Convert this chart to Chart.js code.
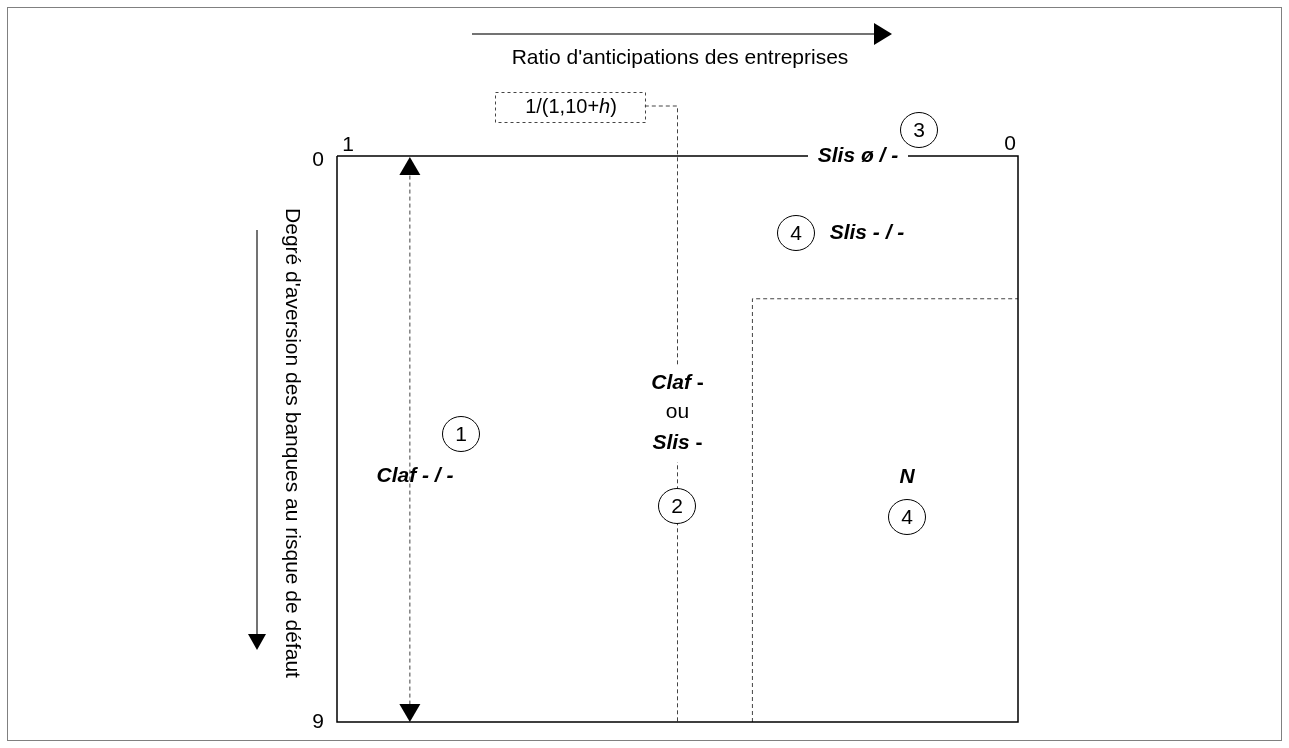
<!DOCTYPE html>
<html>
<head>
<meta charset="utf-8">
<script src="https://cdn.jsdelivr.net/npm/chart.js@4.4.1/dist/chart.umd.min.js"></script>
<style>
    body { margin: 0; background: #fff; }
    #box { width: 1289px; height: 748px; position: relative; }
</style>
</head>
<body>
<div id="box"><canvas id="chart1"></canvas></div>
<script>
// Axes : ratio d'anticipations (1 -> 0), aversion au risque (0 -> 9)
const ticks_x = ['1', '0'];
const ticks_y = ['0', '9'];
const limites_x = [1, 0];
const limites_y = [0, 9];

// Seuils du diagramme
const seuil_ratio = [0.5];      // 1/(1,10+h)
const seuil_zone_n = [0.39, 2.27]; // coin de la zone N (ratio, aversion)
const fleche_ratio = [0.893];   // double fleche de la zone 1

// Zones : numero, libelle
const zones_num = ['1', '2', '3', '4', '4'];
const zones_libelle = ['Claf - / -', 'Claf -|ou|Slis -', 'Slis ø / -', 'Slis - / -', 'N'];

const titre_x = "Ratio d'anticipations des entreprises";
const titre_y = "Degré d'aversion des banques au risque de défaut";
const libelle_seuil = ['1/(1,10+', 'h', ')'];

const police = '"Liberation Sans", Arial, sans-serif';
const taille = 21;

function triangle(ctx, x, y, dir, w, h) {
    ctx.beginPath();
    if (dir == 'up') { ctx.moveTo(x, y); ctx.lineTo(x - w / 2, y + h); ctx.lineTo(x + w / 2, y + h); }
    if (dir == 'down') { ctx.moveTo(x, y); ctx.lineTo(x - w / 2, y - h); ctx.lineTo(x + w / 2, y - h); }
    if (dir == 'right') { ctx.moveTo(x, y); ctx.lineTo(x - h, y - w / 2); ctx.lineTo(x - h, y + w / 2); }
    ctx.closePath();
    ctx.fill();
}

function cercle(ctx, x, y, txt) {
    ctx.fillStyle = '#fff';
    ctx.beginPath();
    ctx.ellipse(x, y, 18.5, 17.5, 0, 0, Math.PI * 2);
    ctx.fill();
    ctx.lineWidth = 1;
    ctx.strokeStyle = '#000';
    ctx.stroke();
    ctx.fillStyle = '#000';
    ctx.font = taille + 'px ' + police;
    ctx.textAlign = 'center';
    ctx.textBaseline = 'middle';
    ctx.fillText(txt, x, y + 1);
}

// dessine un texte en plusieurs morceaux (gras italique / gras / normal)
function texteMixte(ctx, morceaux, cx, cy, t) {
    t = t || taille;
    let total = 0;
    morceaux.forEach(m => { ctx.font = m[1] + ' ' + t + 'px ' + police; total += ctx.measureText(m[0]).width; });
    let x = cx - total / 2;
    ctx.textAlign = 'left';
    ctx.textBaseline = 'middle';
    morceaux.forEach(m => {
        ctx.font = m[1] + ' ' + t + 'px ' + police;
        ctx.fillText(m[0], x, cy);
        x += ctx.measureText(m[0]).width;
    });
    return total;
}

const pluginDiagramme = {
    id: 'diagramme',
    afterDraw(chart) {
        const ctx = chart.ctx;
        const sx = chart.scales.x, sy = chart.scales.y;
        const px = v => sx.getPixelForValue(v);
        const py = v => sy.getPixelForValue(v);
        const a = chart.chartArea;
        ctx.save();
        ctx.fillStyle = '#000';

        // cadre exterieur
        ctx.strokeStyle = '#808080';
        ctx.lineWidth = 1;
        ctx.strokeRect(7.5, 7.5, 1274, 733);

        // etiquettes des axes
        ctx.font = taille + 'px ' + police;
        ctx.textAlign = 'center';
        ctx.textBaseline = 'middle';
        ctx.fillText(ticks_y[0], a.left - 19, py(limites_y[0]) + 4);
        ctx.fillText(ticks_y[1], a.left - 19, py(limites_y[1]));
        ctx.fillText(ticks_x[0], px(limites_x[0]) + 11, a.top - 11);
        ctx.fillText(ticks_x[1], px(limites_x[1]) - 8, a.top - 12);

        // fleche du haut + titre
        ctx.strokeStyle = '#444';
        ctx.lineWidth = 1.5;
        ctx.beginPath();
        ctx.moveTo(472, 34); ctx.lineTo(876, 34);
        ctx.stroke();
        triangle(ctx, 892, 34, 'right', 22, 18);
        ctx.font = taille + 'px ' + police;
        ctx.textAlign = 'center';
        ctx.fillText(titre_x, 680, 58);

        // fleche de gauche + titre vertical
        ctx.beginPath();
        ctx.moveTo(257, 230); ctx.lineTo(257, 636);
        ctx.stroke();
        triangle(ctx, 257, 650, 'down', 18, 16);
        ctx.save();
        ctx.translate(292, 443);
        ctx.rotate(Math.PI / 2);
        ctx.fillText(titre_y, 0, 0);
        ctx.restore();

        // boite du seuil 1/(1,10+h)
        ctx.setLineDash([3, 3]);
        ctx.strokeStyle = '#444';
        ctx.lineWidth = 1;
        ctx.strokeRect(495.5, 92.5, 150, 30);
        ctx.setLineDash([]);
        texteMixte(ctx, [[libelle_seuil[0], ''], [libelle_seuil[1], 'italic'], [libelle_seuil[2], '']], 571, 107, 20);

        // double fleche zone 1
        triangle(ctx, px(fleche_ratio[0]), a.top + 1, 'up', 21, 18);
        triangle(ctx, px(fleche_ratio[0]), a.bottom, 'down', 21, 18);

        // zone 3 : texte sur la ligne du haut
        ctx.fillStyle = '#fff';
        ctx.fillRect(808, a.top - 3, 100, 6);
        ctx.fillStyle = '#000';
        texteMixte(ctx, [['Slis ø / -', 'bold italic']], 858, a.top);
        cercle(ctx, 919, 130, zones_num[2]);

        // zone 4 haut
        cercle(ctx, 796, 233, zones_num[3]);
        texteMixte(ctx, [['Slis - / -', 'bold italic']], 867, 233);

        // zone 1
        cercle(ctx, 461, 434, zones_num[0]);
        texteMixte(ctx, [['Claf - / -', 'bold italic']], 415, 476);

        // zone 2
        ctx.fillStyle = '#fff';
        ctx.fillRect(px(seuil_ratio[0]) - 35, 366, 70, 96);
        ctx.fillStyle = '#000';
        texteMixte(ctx, [['Claf', 'bold italic'], [' -', 'bold']], px(seuil_ratio[0]), 383);
        texteMixte(ctx, [['ou', '']], px(seuil_ratio[0]), 412);
        texteMixte(ctx, [['Slis', 'bold italic'], [' -', 'bold']], px(seuil_ratio[0]), 443);
        cercle(ctx, 677, 506, zones_num[1]);

        // zone N
        texteMixte(ctx, [[zones_libelle[4], 'bold italic']], 907, 477);
        cercle(ctx, 907, 517, zones_num[4]);

        ctx.restore();
    }
};

const noir = '#000';
new Chart(document.getElementById('chart1'), {
    type: 'scatter',
    data: {
        datasets: [
            {
                label: 'cadre',
                data: [
                    { x: limites_x[0], y: limites_y[0] }, { x: limites_x[0], y: limites_y[1] },
                    { x: limites_x[1], y: limites_y[1] }, { x: limites_x[1], y: limites_y[0] },
                    { x: limites_x[0], y: limites_y[0] }
                ],
                showLine: true, borderColor: noir, borderWidth: 1.5, pointRadius: 0, clip: false
            },
            {
                label: 'seuil',
                data: [{ x: 0.548, y: -0.795 }, { x: seuil_ratio[0], y: -0.795 }, { x: seuil_ratio[0], y: limites_y[1] }],
                showLine: true, borderColor: '#444', borderWidth: 1, borderDash: [4, 3], pointRadius: 0, clip: false
            },
            {
                label: 'zone N',
                data: [{ x: seuil_zone_n[0], y: limites_y[1] }, { x: seuil_zone_n[0], y: seuil_zone_n[1] }, { x: limites_x[1], y: seuil_zone_n[1] }],
                showLine: true, borderColor: '#444', borderWidth: 1, borderDash: [4, 3], pointRadius: 0, clip: false
            },
            {
                label: 'fleche',
                data: [{ x: fleche_ratio[0], y: 0.2 }, { x: fleche_ratio[0], y: 8.8 }],
                showLine: true, borderColor: '#444', borderWidth: 1, borderDash: [4, 3], pointRadius: 0, clip: false
            }
        ]
    },
    options: {
        responsive: true,
        maintainAspectRatio: false,
        animation: false,
        layout: { padding: { left: 337, right: 271, top: 156, bottom: 26 } },
        plugins: { legend: { display: false }, tooltip: { enabled: false } },
        scales: {
            x: { type: 'linear', min: 0, max: 1, reverse: true, display: false },
            y: { type: 'linear', min: 0, max: 9, reverse: true, display: false }
        }
    },
    plugins: [pluginDiagramme]
});
</script>
</body>
</html>
